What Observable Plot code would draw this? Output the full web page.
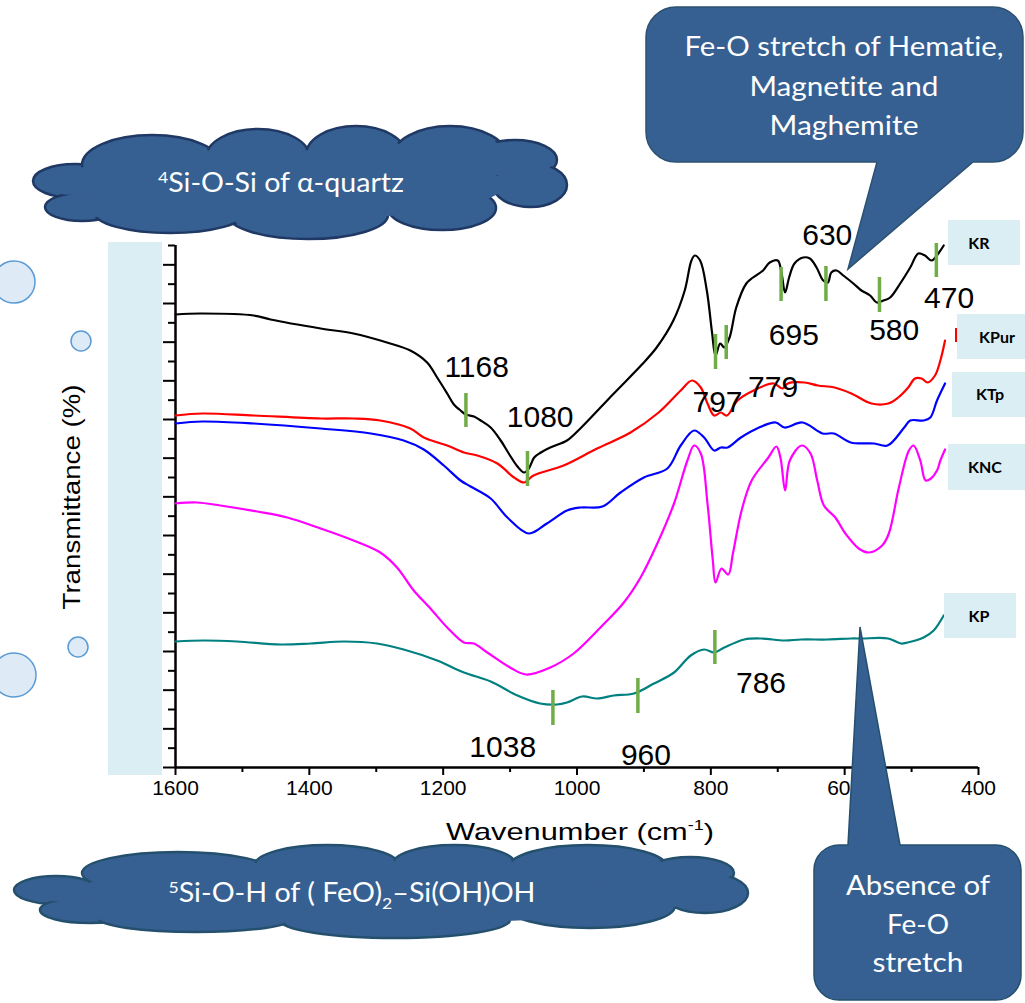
<!DOCTYPE html>
<html><head><meta charset="utf-8">
<script src="https://cdn.jsdelivr.net/npm/d3@7"></script>
<script src="https://cdn.jsdelivr.net/npm/@observablehq/plot@0.6"></script>
<style>body{margin:0;background:#fff} svg{display:block} text{font-variant-ligatures:none}</style>
</head><body><div id="chart"></div>
<script>
// ---- data (wavenumber cm-1, transmittance in offset units) ----
const sampleNames = ["KR", "KPur", "KTp", "KNC", "KP"];
const sampleColors = ["#000000", "#ff0000", "#0000ff", "#ff00ff", "#008080"];

const KR = [[1600,453],[1563,454],[1483,452],[1458,448],[1383,439],[1334,434],[1284,425],[1249,417],[1224,405],[1209,390],[1194,374],[1184,363],[1174,357],[1166,353],[1154,351],[1144,347],[1129,340],[1114,327],[1102,314],[1089,301],[1079,295],[1072,299],[1064,310],[1054,315],[1040,320],[1015,327],[995,339],[945,374],[903,403],[881,420],[856,447],[839,477],[829,507],[824,512],[816,507],[806,477],[798,434],[793,412],[786,424],[780,420],[772,430],[762,460],[747,484],[737,490],[722,497],[712,505],[700,507],[695,497],[689,475],[683,490],[675,504],[662,510],[652,509],[642,500],[632,487],[625,485],[620,495],[612,497],[602,492],[587,484],[575,477],[562,472],[552,465],[542,467],[532,470],[517,484],[502,500],[490,514],[480,512],[470,507],[459,515],[452,522]];

const KPur = [[1600,352],[1560,354],[1483,352],[1383,349],[1334,349],[1294,347],[1249,339],[1229,330],[1194,322],[1169,315],[1149,312],[1119,304],[1094,290],[1079,285],[1065,292],[1020,302],[970,319],[920,335],[878,355],[845,377],[828,387],[815,380],[805,364],[795,352],[785,355],[776,352],[760,367],[736,377],[706,384],[693,379],[685,384],[660,385],[640,382],[615,380],[590,374],[560,364],[535,364],[520,370],[505,380],[495,389],[485,389],[476,385],[465,392],[457,407],[450,427]];

const KTp = [[1600,344],[1560,346],[1483,344],[1383,339],[1308,334],[1259,327],[1229,318],[1199,302],[1174,287],[1159,281],[1129,269],[1104,250],[1072,234],[1045,244],[1015,257],[995,260],[962,261],[935,275],[900,290],[865,299],[845,322],[825,337],[810,330],[795,317],[785,320],[775,320],[755,330],[731,339],[703,345],[690,340],[663,345],[633,334],[616,334],[591,325],[556,324],[536,322],[511,340],[502,347],[482,347],[472,350],[462,367],[450,384]];

const KNC = [[1600,264],[1568,265],[1533,262],[1478,256],[1433,250],[1383,239],[1334,227],[1294,215],[1269,200],[1244,177],[1219,159],[1194,140],[1169,125],[1154,124],[1134,115],[1100,100],[1076,93],[1040,100],[1005,114],[965,140],[930,165],[905,190],[880,224],[855,264],[835,307],[825,322],[815,314],[805,264],[797,207],[793,185],[784,199],[774,193],[767,214],[754,257],[739,287],[714,310],[702,321],[696,310],[689,277],[682,307],[664,322],[651,314],[641,287],[631,262],[614,250],[599,234],[579,219],[564,215],[544,222],[534,234],[519,280],[504,317],[497,322],[487,307],[479,287],[471,289],[462,297],[457,307],[450,318]];

const KP = [[1600,126],[1558,127],[1508,126],[1443,123],[1398,124],[1348,126],[1299,124],[1259,118],[1209,107],[1169,95],[1129,86],[1089,72],[1055,64],[1030,63],[1015,65],[992,71],[970,69],[945,72],[915,74],[885,84],[855,95],[830,112],[810,118],[795,115],[780,120],[750,128],[725,129],[690,127],[665,128],[626,128],[591,129],[575,129],[535,129],[516,124],[506,125],[482,130],[467,137],[452,152]];

// peak labels (text, wavenumber position, height)
const peakText = ["1168","1080","797","779","695","630","580","470","1038","960","786"];
const peakW    = [1150, 1055, 790, 707, 676, 626, 526, 444, 1111, 897, 725];
const peakT    = [400, 350, 365, 380, 432, 532, 437, 469, 20, 12, 84];

// green band markers (wavenumber, low, high)
const markW  = [1166, 1074, 793, 777, 695, 628, 548, 463, 1036, 909, 794];
const markLo = [340, 281, 398, 408, 466, 466, 455, 490, 42, 54, 103];
const markHi = [374, 316, 433, 442, 500, 501, 490, 524, 77, 89, 137];

// axis ticks
const xMajor = [1600, 1400, 1200, 1000, 800, 600, 400];
const xMinor = [1500, 1300, 1100, 900, 700, 500];
const yTop = 522, yDivs = 27;

// ---- build tables ----
const allSeries = [KR, KPur, KTp, KNC, KP];
const rows = allSeries.flatMap((s, i) => s.map(([w, t]) => ({sample: sampleNames[i], w, t})));
const peaks = peakText.map((label, i) => ({label, w: peakW[i], t: peakT[i]}));
const marks = markW.map((w, i) => ({w, lo: markLo[i], hi: markHi[i]}));
const yStep = yTop / yDivs;
const yMajor = d3.range(0, yDivs + 1, 2).map(k => k * yStep);
const yMinor = d3.range(1, yDivs + 1, 2).map(k => k * yStep);

const plot = Plot.plot({
  width: 1025, height: 1003,
  marginLeft: 175, marginRight: 47, marginTop: 245, marginBottom: 236,
  style: {fontFamily: "Liberation Sans, Arial, sans-serif", background: "white", color: "black"},
  x: {domain: [1600, 400]},
  y: {domain: [0, yTop]},
  color: {domain: sampleNames, range: sampleColors},
  marks: [
    Plot.axisX({ticks: xMajor, tickSize: 8, tickPadding: 5, fontSize: 21, strokeWidth: 2, label: null, tickFormat: d => String(d)}),
    Plot.axisX({ticks: xMinor, tickSize: 5, strokeWidth: 2, label: null, tickFormat: () => ""}),
    Plot.axisY({ticks: yMajor, tickSize: 12, strokeWidth: 2, label: null, tickFormat: () => ""}),
    Plot.axisY({ticks: yMinor, tickSize: 7, strokeWidth: 2, label: null, tickFormat: () => ""}),
    Plot.ruleX([1600], {strokeWidth: 2.5}),
    Plot.ruleY([0], {strokeWidth: 2.5}),
    Plot.line(rows, {x: "w", y: "t", z: "sample", stroke: "sample", strokeWidth: 2.2, curve: "catmull-rom"}),
    Plot.ruleX(marks, {x: "w", y1: "lo", y2: "hi", stroke: "#70ad47", strokeWidth: 3.5}),
    Plot.text(peaks, {x: "w", y: "t", text: "label", fontSize: 30, fill: "black", fontFamily: "Liberation Sans, Arial, sans-serif"})
  ]
});
document.getElementById("chart").appendChild(plot);

// ---- decorations ----
const svg = d3.select(plot);
const deco = svg.append("g");
const lightBlue = "#dbeef4";
const navy = "#376092";
const calloutFont = "Lato, 'Open Sans', sans-serif";

// left band
deco.append("rect").attr("x", 108).attr("y", 242).attr("width", 54).attr("height", 533).attr("fill", lightBlue);

// bubbles
[[14, 282, 21], [81, 341, 10], [78, 647, 10], [14, 675, 22]].forEach(([cx, cy, r]) =>
  deco.append("circle").attr("cx", cx).attr("cy", cy).attr("r", r)
    .attr("fill", "#deebf7").attr("stroke", "#5b9bd5").attr("stroke-width", 1.5));

// axis titles
const xt = deco.append("text").attr("x", 580).attr("y", 840).attr("text-anchor", "middle")
  .attr("font-family", "Liberation Sans, Arial, sans-serif").attr("font-size", 24)
  .attr("textLength", 268).attr("lengthAdjust", "spacingAndGlyphs");
xt.append("tspan").text("Wavenumber (cm");
xt.append("tspan").attr("font-size", 14).attr("dy", -10).text("-1");
xt.append("tspan").attr("dy", 10).text(")");

deco.append("text").attr("transform", "translate(80,497) rotate(-90)").attr("text-anchor", "middle")
  .attr("font-family", "Liberation Sans, Arial, sans-serif").attr("font-size", 23)
  .attr("textLength", 225).attr("lengthAdjust", "spacingAndGlyphs").text("Transmittance (%)");

// legend boxes
const boxes = [
  {name: "KR",   x: 948, y: 220, w: 72, h: 45, cx: 979, cy: 243},
  {name: "KPur", x: 957, y: 314, w: 70, h: 45, cx: 997, cy: 337},
  {name: "KTp",  x: 952, y: 372, w: 75, h: 45, cx: 990, cy: 394},
  {name: "KNC",  x: 948, y: 444, w: 79, h: 46, cx: 985, cy: 467},
  {name: "KP",   x: 944, y: 593, w: 72, h: 45, cx: 979, cy: 616}
];
boxes.forEach(b => {
  deco.append("rect").attr("x", b.x).attr("y", b.y).attr("width", b.w).attr("height", b.h).attr("fill", lightBlue);
  deco.append("text").attr("x", b.cx).attr("y", b.cy).attr("dy", "0.35em").attr("text-anchor", "middle")
    .attr("font-family", calloutFont).attr("font-weight", "bold").attr("font-size", 16).text(b.name);
});
deco.append("line").attr("x1", 956).attr("x2", 956).attr("y1", 328).attr("y2", 342).attr("stroke", "#ff0000").attr("stroke-width", 2);

// clouds
function cloud(lobes, core, stroke) {
  const g = deco.append("g");
  lobes.forEach(([cx, cy, rx, ry]) => g.append("ellipse").attr("cx", cx).attr("cy", cy).attr("rx", rx).attr("ry", ry)
    .attr("fill", navy).attr("stroke", stroke).attr("stroke-width", 2.5));
  g.append("ellipse").attr("cx", core[0]).attr("cy", core[1]).attr("rx", core[2]).attr("ry", core[3]).attr("fill", navy);
  lobes.forEach(([cx, cy, rx, ry]) => g.append("ellipse").attr("cx", cx).attr("cy", cy).attr("rx", rx - 3).attr("ry", ry - 3).attr("fill", navy));
  return g;
}
cloud([[75,181,42,17],[82,207,37,14],[152,165,70,30],[258,158,52,29],[356,155,50,29],[450,158,58,32],
       [515,160,42,20],[530,185,37,22],[442,208,54,22],[308,215,80,24],[170,212,76,21]],
      [290,185,215,35], "#1f3864");
const c1 = deco.append("text").attr("x", 281).attr("y", 192).attr("text-anchor", "middle").attr("fill", "white")
  .attr("font-family", calloutFont).attr("font-size", 26).attr("textLength", 246).attr("lengthAdjust", "spacingAndGlyphs");
c1.append("tspan").attr("font-size", 16).attr("dy", -9).text("4");
c1.append("tspan").attr("dy", 9).text("Si-O-Si of α-quartz");

cloud([[56,890,42,14],[90,910,50,13],[178,873,96,21],[327,865,72,20],[454,865,62,20],[588,867,79,22],
       [690,873,44,16],[705,893,43,20],[590,906,85,22],[395,920,115,18],[196,918,98,14]],
      [390,893,320,30], "#24506e");
const c2 = deco.append("text").attr("x", 352).attr("y", 902).attr("text-anchor", "middle").attr("fill", "white")
  .attr("font-family", calloutFont).attr("font-size", 26).attr("textLength", 367).attr("lengthAdjust", "spacingAndGlyphs");
c2.append("tspan").attr("font-size", 16).attr("dy", -9).text("5");
c2.append("tspan").attr("dy", 9).text("Si-O-H of ( FeO)");
c2.append("tspan").attr("font-size", 16).attr("dy", 7).text("2");
c2.append("tspan").attr("dy", -7).text("–Si(OH)OH");

// callout top right
deco.append("path")
  .attr("d", "M676,7 H993 A30,30 0 0 1 1023,37 V132 A30,30 0 0 1 993,162 H973 L848,269 L877,162 H676 A30,30 0 0 1 646,132 V37 A30,30 0 0 1 676,7 Z")
  .attr("fill", navy).attr("stroke", "#2c5070").attr("stroke-width", 1.5);
[["Fe-O stretch of Hematie,", 56, 319], ["Magnetite and", 96, 189], ["Maghemite", 135, 149]].forEach(([t, y, L]) =>
  deco.append("text").attr("x", 844).attr("y", y).attr("text-anchor", "middle").attr("fill", "white")
    .attr("font-family", calloutFont).attr("font-size", 27).attr("textLength", L).attr("lengthAdjust", "spacingAndGlyphs").text(t));

// callout bottom right
deco.append("path")
  .attr("d", "M839,845 H848 L860,627 L900,845 H996 A25,25 0 0 1 1021,870 V975 A25,25 0 0 1 996,1000 H839 A25,25 0 0 1 814,975 V870 A25,25 0 0 1 839,845 Z")
  .attr("fill", navy).attr("stroke", "#24506e").attr("stroke-width", 1.5);
[["Absence of", 895, 144], ["Fe-O", 934, 62], ["stretch", 972, 91]].forEach(([t, y, L]) =>
  deco.append("text").attr("x", 918).attr("y", y).attr("text-anchor", "middle").attr("fill", "white")
    .attr("font-family", calloutFont).attr("font-size", 27).attr("textLength", L).attr("lengthAdjust", "spacingAndGlyphs").text(t));
</script>
</body></html>
